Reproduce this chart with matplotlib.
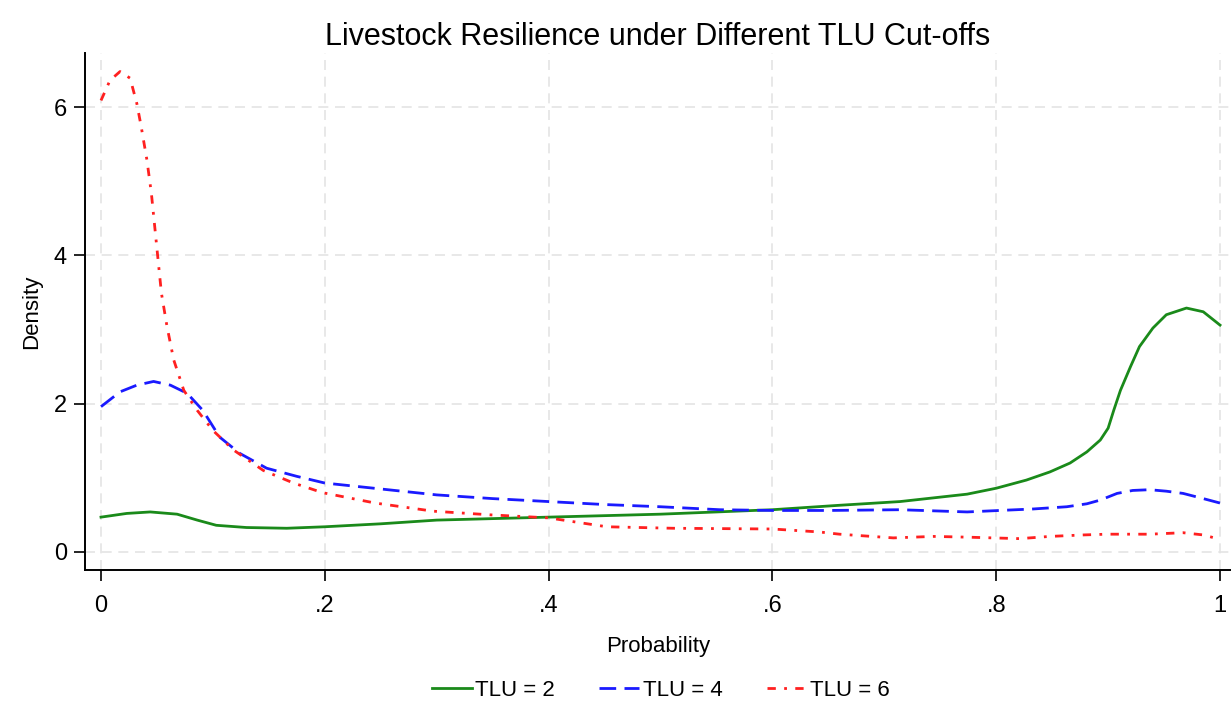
import matplotlib
matplotlib.use("Agg")
import matplotlib.pyplot as plt

# density curves
x_tlu2 = [0, .023, .044, .068, .086, .103, .13, .166, .2, .25, .3, .35, .4, .45, .5,
          .55, .6, .66, .714, .744, .774, .8, .827, .848, .866, .881, .893, .9, .905,
          .911, .92, .928, .94, .952, .97, .985, 1]
y_tlu2 = [0.47, 0.52, 0.54, 0.51, 0.43, 0.36, 0.33, 0.32, 0.34, 0.38, 0.43, 0.45, 0.47,
          0.49, 0.51, 0.54, 0.57, 0.63, 0.68, 0.73, 0.78, 0.86, 0.97, 1.08, 1.2, 1.35,
          1.51, 1.67, 1.91, 2.18, 2.5, 2.77, 3.02, 3.2, 3.29, 3.24, 3.06]

x_tlu4 = [0, .017, .032, .047, .062, .077, .091, .106, .124, .148, .175, .2, .25, .3,
          .35, .4, .45, .5, .553, .6, .65, .714, .774, .803, .833, .863, .881, .893,
          .908, .922, .937, .952, .967, .985, 1]
y_tlu4 = [1.96, 2.16, 2.25, 2.3, 2.25, 2.14, 1.91, 1.55, 1.33, 1.13, 1.02, 0.93, 0.85,
          0.77, 0.72, 0.68, 0.64, 0.61, 0.57, 0.56, 0.56, 0.57, 0.54, 0.56, 0.58, 0.61,
          0.65, 0.7, 0.79, 0.83, 0.84, 0.82, 0.79, 0.72, 0.66]

x_tlu6 = [0, .008, .017, .026, .032, .036, .041, .045, .048, .051, .054, .059, .065,
          .074, .086, .1, .118, .145, .172, .198, .245, .297, .349, .4, .452, .511,
          .6, .642, .66, .708, .744, .774, .797, .821, .848, .878, .899, .937, .967,
          .985, 1]
y_tlu6 = [6.09, 6.36, 6.48, 6.39, 6.05, 5.73, 5.29, 4.84, 4.39, 3.94, 3.49, 3.04, 2.59,
          2.18, 1.91, 1.64, 1.38, 1.1, 0.93, 0.8, 0.66, 0.55, 0.5, 0.46, 0.34, 0.32,
          0.31, 0.27, 0.24, 0.19, 0.21, 0.2, 0.19, 0.18, 0.21, 0.23, 0.24, 0.24, 0.26,
          0.23, 0.17]

xticks = [0, .2, .4, .6, .8, 1]
xticklabels = ["0", ".2", ".4", ".6", ".8", "1"]
yticks = [0, 2, 4, 6]

plt.rcParams['font.family'] = ['Liberation Sans Narrow', 'Liberation Sans', 'DejaVu Sans']

fig = plt.figure(figsize=(12.31, 7.05), dpi=100)
ax = fig.add_axes([85/1231, 1 - 570/705, 1 - 85/1231, (570 - 53)/705])

ax.plot(x_tlu2, y_tlu2, color='#1a8a1a', lw=2, ls='-', label='TLU = 2')
ax.plot(x_tlu4, y_tlu4, color='#1a1aff', lw=2, ls=(0, (6, 3)), label='TLU = 4')
ax.plot(x_tlu6, y_tlu6, color='#ff2020', lw=2, ls=(0, (3, 3, 1, 3)), label='TLU = 6')

ax.set_xlim(-0.0143, 1.0098)
ax.set_ylim(-0.243, 6.73)
ax.set_xticks(xticks)
ax.set_xticklabels(xticklabels)
ax.set_yticks(yticks)
ax.grid(True, color='#e4e4e4', ls=(0, (6, 4)), lw=1.2)
ax.set_axisbelow(True)
for s in ['top', 'right']:
    ax.spines[s].set_visible(False)
ax.spines['left'].set_linewidth(1.4)
ax.spines['bottom'].set_linewidth(1.4)
ax.tick_params(length=8, width=1.2, labelsize=17)
ax.tick_params(axis='x', pad=10)
ax.tick_params(axis='y', pad=5)

ax.set_title('Livestock Resilience under Different TLU Cut-offs', fontsize=22, pad=6)
ax.set_xlabel('Probability', fontsize=16, labelpad=14)
ax.set_ylabel('Density', fontsize=16, labelpad=8)

fig.legend(loc='center', bbox_to_anchor=(661/1231, 1 - 690/705), ncol=3, frameon=False,
           fontsize=16, handlelength=1.8, handletextpad=0.15, columnspacing=2.0)

fig.savefig('out.png', dpi=100, facecolor='white')
